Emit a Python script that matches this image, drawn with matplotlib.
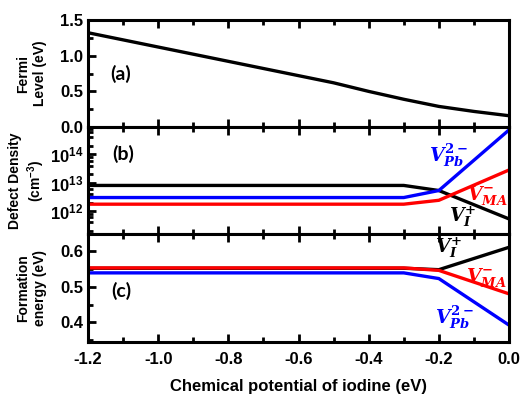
import matplotlib
matplotlib.use("Agg")
import matplotlib.pyplot as plt
import numpy as np
from matplotlib.ticker import MultipleLocator, FixedLocator, FixedFormatter, LogLocator, NullFormatter

plt.rcParams['font.family'] = ['Liberation Sans', 'DejaVu Sans']
plt.rcParams['font.weight'] = 'bold'
plt.rcParams['axes.unicode_minus'] = False
plt.rcParams['mathtext.fontset'] = 'custom'
plt.rcParams['mathtext.rm'] = 'DejaVu Serif:bold'
plt.rcParams['mathtext.it'] = 'DejaVu Serif:italic:bold'
plt.rcParams['mathtext.bf'] = 'Liberation Sans:bold'

# chemical potential of iodine (eV)
mu = [-1.2, -1.1, -1.0, -0.9, -0.8, -0.7, -0.6, -0.5, -0.4, -0.3, -0.2, -0.1, 0.0]
fermi = [1.32, 1.22, 1.12, 1.02, 0.92, 0.82, 0.72, 0.62, 0.50, 0.39, 0.29, 0.22, 0.16]

# defect density (cm^-3)
mu_d = [-1.2, -0.3, -0.2, 0.0]
dens_I = [8.0e12, 8.0e12, 5.3e12, 5.3e11]
dens_Pb = [3.0e12, 3.0e12, 5.3e12, 7.2e14]
dens_MA = [1.75e12, 1.75e12, 2.4e12, 2.8e13]

# formation energy (eV)
form_I = [0.552, 0.552, 0.548, 0.611]
form_Pb = [0.539, 0.539, 0.523, 0.392]
form_MA = [0.553, 0.553, 0.546, 0.480]

xticks = [-1.2, -1.0, -0.8, -0.6, -0.4, -0.2, 0.0]

fig = plt.figure(figsize=(5.21, 3.97), dpi=100)
gs = fig.add_gridspec(3, 1, left=0.169, right=0.977, top=0.95, bottom=0.139, hspace=0)
axa = fig.add_subplot(gs[0])
axb = fig.add_subplot(gs[1], sharex=axa)
axc = fig.add_subplot(gs[2], sharex=axa)

lw = 2.4
axa.plot(mu, fermi, color='black', lw=lw)
axa.set_ylim(0, 1.5)
axa.yaxis.set_major_locator(MultipleLocator(0.5))
axa.yaxis.set_minor_locator(MultipleLocator(0.25))
axa.set_ylabel('Fermi\nLevel (eV)', fontsize=10, fontweight='bold', linespacing=1.2)

axb.plot(mu_d, dens_I, color='black', lw=lw)
axb.plot(mu_d, dens_Pb, color='blue', lw=lw)
axb.plot(mu_d, dens_MA, color='red', lw=lw)
axb.set_yscale('log')
axb.set_ylim(1.5e11, 9e14)
axb.yaxis.set_major_locator(FixedLocator([1e12, 1e13, 1e14]))
axb.yaxis.set_major_formatter(FixedFormatter([r'$\mathbf{10^{12}}$', r'$\mathbf{10^{13}}$', r'$\mathbf{10^{14}}$']))
axb.yaxis.set_minor_locator(LogLocator(base=10, subs=[2, 4, 6, 8]))
axb.yaxis.set_minor_formatter(NullFormatter())
axb.set_ylabel('Defect Density\n(cm$^{\\mathbf{-3}}$)', fontsize=10, fontweight='bold', linespacing=1.2)

axc.plot(mu_d, form_I, color='black', lw=lw)
axc.plot(mu_d, form_Pb, color='blue', lw=lw)
axc.plot(mu_d, form_MA, color='red', lw=lw)
axc.set_ylim(0.345, 0.647)
axc.yaxis.set_major_locator(MultipleLocator(0.1))
axc.yaxis.set_minor_locator(MultipleLocator(0.05))
axc.set_ylabel('Formation\nenergy (eV)', fontsize=10, fontweight='bold', linespacing=1.2)

axc.set_xlim(-1.2, 0.0)
axc.set_xticks(xticks)
axc.set_xticklabels(['%.1f' % v for v in xticks])
axc.xaxis.set_minor_locator(MultipleLocator(0.1))
axc.set_xlabel('Chemical potential of iodine (eV)', fontsize=12, fontweight='bold', labelpad=9)

for ax in (axa, axb, axc):
    for s in ax.spines.values():
        s.set_linewidth(2.2)
    ax.tick_params(which='both', direction='in', top=True, right=False, width=2, labelsize=12)
    ax.tick_params(which='major', length=6)
    ax.tick_params(which='minor', length=3.5)
    ax.tick_params(axis='x', pad=7)
    ax.yaxis.set_label_coords(-0.098, 0.5)
    for lab in ax.get_xticklabels() + ax.get_yticklabels():
        lab.set_fontweight('bold')
for ax in (axa, axb):
    ax.tick_params(labelbottom=False)

txt = dict(fontsize=14, fontweight='bold', family=['Lato', 'DejaVu Sans'])
axa.text(0.077, 0.50, '(a)', transform=axa.transAxes, va='center', ha='center', **txt)
axb.text(0.083, 0.75, '(b)', transform=axb.transAxes, va='center', ha='center', **txt)
axc.text(0.08, 0.47, '(c)', transform=axc.transAxes, va='center', ha='center', **txt)

fs = 13.5
axb.text(-0.171, 8.5e13, r'$V_{Pb}^{2-}$', color='blue', fontsize=fs, ha='center', va='center')
axb.text(-0.062, 3.5e12, r'$V_{MA}^{-}$', color='red', fontsize=fs, ha='center', va='center')
axb.text(-0.131, 6.3e11, r'$V_{I}^{+}$', color='black', fontsize=fs, ha='center', va='center')
axc.text(-0.171, 0.610, r'$V_{I}^{+}$', color='black', fontsize=fs, ha='center', va='center')
axc.text(-0.066, 0.526, r'$V_{MA}^{-}$', color='red', fontsize=fs, ha='center', va='center')
axc.text(-0.154, 0.413, r'$V_{Pb}^{2-}$', color='blue', fontsize=fs, ha='center', va='center')

fig.savefig('out.png', dpi=100)
